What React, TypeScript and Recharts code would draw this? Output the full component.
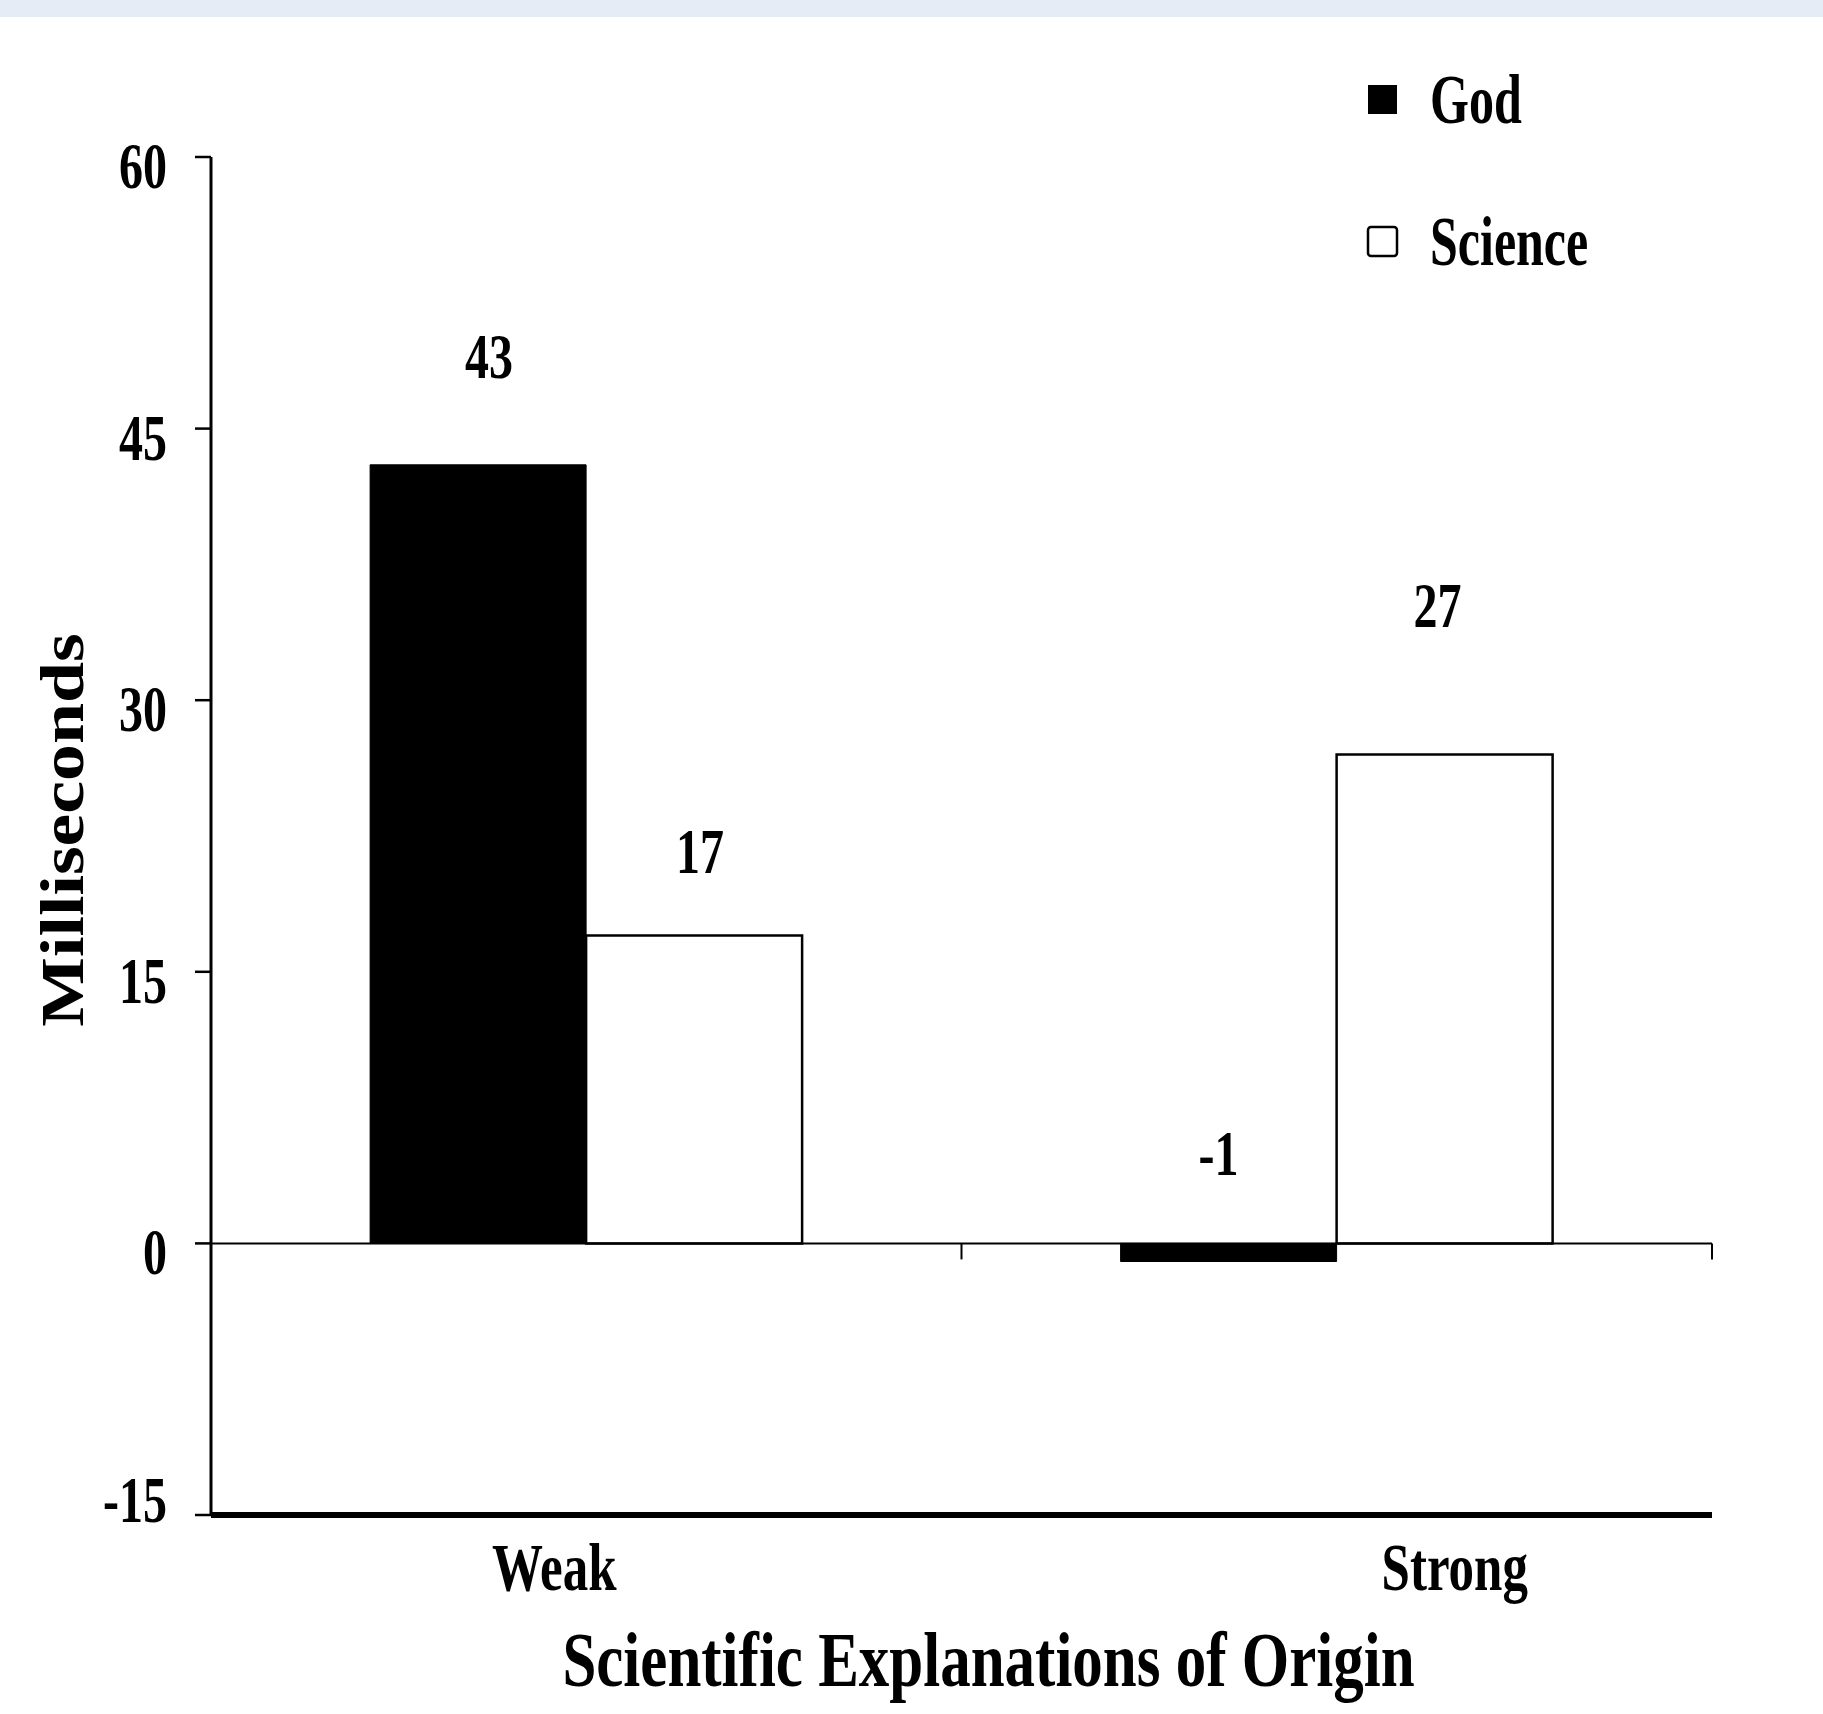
import React from 'react';
import { BarChart, Bar, XAxis, YAxis, ReferenceLine, Legend, LabelList } from 'recharts';

// ---- data ----
const categories = ['Weak', 'Strong'];
const godValues = [43, -1];
const scienceValues = [17, 27];
const yTicks = [-15, 0, 15, 30, 45, 60];
const seriesNames = ['God', 'Science'];
const xTitle = 'Scientific Explanations of Origin';
const yTitle = 'Milliseconds';

const data = categories.map((c, i) => ({ category: c, God: godValues[i], Science: scienceValues[i] }));

// ---- styles ----
const FONT = '"Liberation Serif", "Times New Roman", serif';
const SERIES_STYLE: Record<string, { fill: string; stroke: string; strokeWidth: number }> = {
  God: { fill: '#000000', stroke: '#000000', strokeWidth: 1 },
  Science: { fill: '#ffffff', stroke: '#000000', strokeWidth: 2.5 },
};
// label placement relative to bar top (baseline lift, horizontal nudge)
const LABEL_STYLE: Record<string, { lift: number[]; dx: number[] }> = {
  God: { lift: [87, 68], dx: [11, -10] },
  Science: { lift: [63, 128], dx: [6, -7] },
};
const XTICK_DX = [-32, 118];

function SText({ x, y, fs, sy, anchor = 'middle', children }: any) {
  return (
    <text
      transform={`translate(${x} ${y}) scale(1 ${sy})`}
      x={0}
      y={0}
      textAnchor={anchor}
      fontFamily={FONT}
      fontWeight="bold"
      fontSize={fs}
      fill="#000"
    >
      {children}
    </text>
  );
}

const YTick = (props: any) => {
  const { x, y, payload, index } = props;
  const dy = index === 0 ? 7 : 31;
  return <SText x={x} y={y + dy} fs={48} sy={1.38} anchor="end">{payload.value}</SText>;
};

const XTick = (props: any) => {
  const { x, y, payload, index } = props;
  return <SText x={x + (XTICK_DX[index] ?? 0)} y={y + 75} fs={51} sy={1.33}>{payload.value}</SText>;
};

const makeValueLabel = (name: string) => (props: any) => {
  const vb = props.viewBox || {};
  const x = props.x ?? vb.x;
  const y = props.y ?? vb.y;
  const width = props.width ?? vb.width;
  const height = props.height ?? vb.height;
  const index = props.index ?? 0;
  const top = Math.min(y, y + height);
  const st = LABEL_STYLE[name];
  return (
    <SText x={x + width / 2 + st.dx[index]} y={top - st.lift[index]} fs={48} sy={1.33}>
      {props.value}
    </SText>
  );
};

const renderYTitle = (props: any) => {
  const vb = props.viewBox;
  const cx = vb.x + 83;
  const cy = vb.y + vb.height / 2 - 6;
  return (
    <text
      transform={`translate(${cx} ${cy}) rotate(-90) scale(1.19 1)`}
      x={0}
      y={0}
      textAnchor="middle"
      fontFamily={FONT}
      fontWeight="bold"
      fontSize={62}
      fill="#000"
    >
      {yTitle}
    </text>
  );
};

const renderXTitle = (props: any) => {
  const vb = props.viewBox;
  return (
    <SText x={vb.x + vb.width / 2 + 27} y={vb.y + 171} fs={61} sy={1.3}>
      {xTitle}
    </SText>
  );
};

const ZeroLine = (props: any) => {
  const { x1, y1, x2, y2 } = props;
  const mid = (x1 + x2) / 2;
  return (
    <g>
      <line x1={x1} y1={y1} x2={x2} y2={y2} stroke="#000" strokeWidth={2} />
      <line x1={mid} y1={y1} x2={mid} y2={y1 + 16} stroke="#000" strokeWidth={2} />
      <line x1={x2} y1={y1} x2={x2} y2={y1 + 16} stroke="#000" strokeWidth={2} />
    </g>
  );
};

const renderLegend = () => (
  <svg width={320} height={230} style={{ display: 'block', overflow: 'visible' }}>
    {seriesNames.map((name, i) => {
      const st = SERIES_STYLE[name];
      const top = 15 + i * 142;
      return (
        <g key={name}>
          <rect
            x={8}
            y={top}
            width={29}
            height={29}
            fill={st.fill}
            stroke="#000"
            strokeWidth={name === 'God' ? 0 : 2.5}
            rx={name === 'God' ? 0 : 3}
          />
          <SText x={70} y={top + 38} fs={50} sy={1.4} anchor="start">
            {name}
          </SText>
        </g>
      );
    })}
  </svg>
);

export default function App() {
  return (
    <div style={{ position: 'absolute', left: 0, top: 0, width: 1823, height: 1714, background: '#ffffff' }}>
      <BarChart
        width={1823}
        height={1714}
        data={data}
        margin={{ top: 157, right: 111, left: 0, bottom: 0 }}
        barCategoryGap="21.2%"
        barGap={0}
      >
        <XAxis
          dataKey="category"
          height={199}
          interval={0}
          tickLine={false}
          tickSize={0}
          tickMargin={0}
          axisLine={{ stroke: '#000', strokeWidth: 6 }}
          tick={<XTick />}
          label={renderXTitle}
        />
        <YAxis
          width={211}
          domain={[-15, 60]}
          ticks={yTicks}
          interval={0}
          allowDataOverflow
          tickSize={16}
          tickMargin={28}
          tickLine={{ stroke: '#000', strokeWidth: 2.5 }}
          axisLine={{ stroke: '#000', strokeWidth: 3 }}
          tick={<YTick />}
          label={renderYTitle}
        />
        <Legend
          layout="horizontal"
          verticalAlign="middle"
          align="center"
          wrapperStyle={{ left: 1360, top: 70, width: 320, height: 230 }}
          content={renderLegend}
        />
        {seriesNames.map((name) => (
          <Bar
            key={name}
            dataKey={name}
            name={name}
            fill={SERIES_STYLE[name].fill}
            stroke={SERIES_STYLE[name].stroke}
            strokeWidth={SERIES_STYLE[name].strokeWidth}
            isAnimationActive={false}
          >
            <LabelList dataKey={name} content={makeValueLabel(name)} />
          </Bar>
        ))}
        <ReferenceLine y={0} stroke="#000" strokeWidth={2} shape={<ZeroLine />} />
      </BarChart>
      <div style={{ position: 'absolute', left: 0, top: 0, width: 1823, height: 17, background: '#e5ecf5' }} />
    </div>
  );
}
